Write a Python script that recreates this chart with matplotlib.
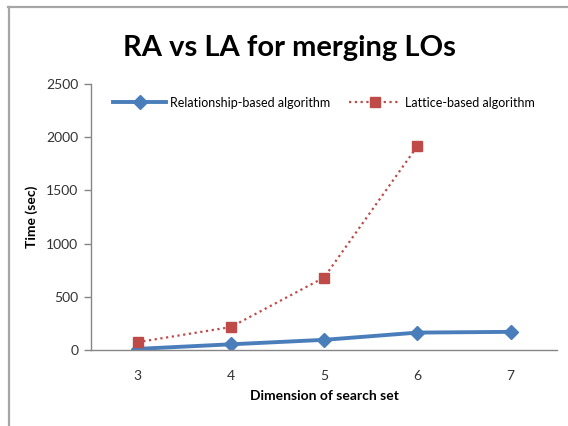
import matplotlib.pyplot as plt
from matplotlib.lines import Line2D

dims = ["3", "4", "5", "6", "7"]
ra_time = [12, 55, 97, 165, 172]
la_time = [75, 217, 682, 1915]
y_ticks = [0, 500, 1000, 1500, 2000, 2500]

BLUE = "#4a7ebb"
RED = "#be4b48"
GRAY = "#868686"


def main() -> None:
    plt.rcParams["font.family"] = ["Lato", "DejaVu Sans"]
    fig = plt.figure(figsize=(5.68, 4.26), dpi=100)
    ax = fig.add_axes([0.160, 0.178, 0.821, 0.625])

    xs = list(range(len(dims)))
    ax.plot(xs, ra_time, color=BLUE, lw=2.8, marker="D", ms=7,
            label="Relationship-based algorithm")
    ax.plot(xs[:len(la_time)], la_time, color=RED, lw=1.6, ls=(0, (1, 1.6)),
            marker="s", ms=7, label="Lattice-based algorithm")

    ax.set_xlim(-0.5, len(dims) - 0.5)
    ax.set_ylim(0, 2500)
    ax.set_xticks(xs)
    ax.set_xticklabels(dims)
    ax.set_yticks(y_ticks)
    ax.tick_params(axis="x", length=0, pad=14, labelsize=10, colors="#333333")
    ax.tick_params(axis="y", length=5, width=1, color=GRAY, labelsize=10,
                   labelcolor="#333333", pad=4)
    for side in ("top", "right"):
        ax.spines[side].set_visible(False)
    for side in ("left", "bottom"):
        ax.spines[side].set_color(GRAY)
        ax.spines[side].set_linewidth(1)

    ax.set_xlabel("Dimension of search set", fontsize=10, fontweight="bold",
                  labelpad=6)
    ax.set_ylabel("Time (sec)", fontsize=10, fontweight="bold", labelpad=6)

    fig.text(0.51, 0.888, "RA vs LA for merging LOs", ha="center",
             va="center", fontsize=21, fontweight="bold")

    ax.legend(loc="upper center", bbox_to_anchor=(0.5, 0.995), ncol=2,
              frameon=False, fontsize=9, handlelength=4.2, columnspacing=1.5,
              handletextpad=0.3)

    # sheet border (top and left only)
    fig.add_artist(Line2D([0.014, 1.0], [0.984, 0.984], color="#a6a6a6",
                          lw=1.6, transform=fig.transFigure))
    fig.add_artist(Line2D([0.015, 0.015], [0.0, 0.984], color="#a6a6a6",
                          lw=1.6, transform=fig.transFigure))

    fig.savefig("out.png", dpi=100)


if __name__ == "__main__":
    main()
